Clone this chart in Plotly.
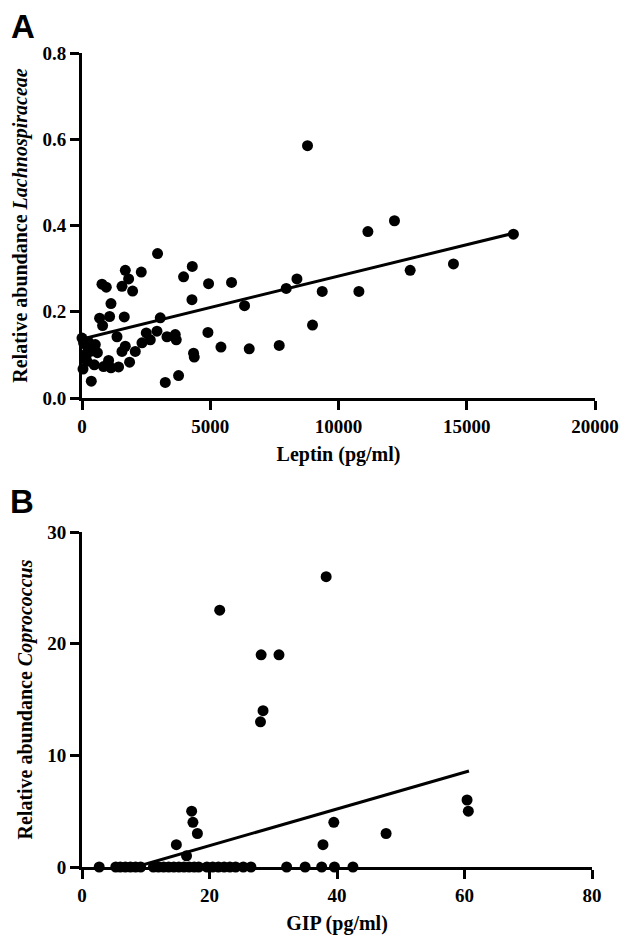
import plotly.graph_objects as go

# ---------------- Panel A data ----------------
leptin_pg_ml = [0, 39, 62, 100, 150, 195, 195, 250, 323, 362, 479, 518, 600, 686, 779, 803,
                842, 947, 1037, 1076, 1130, 1130, 1364, 1426, 1559, 1559, 1648, 1688,
                1688, 1817, 1855, 1973, 2077, 2311, 2338, 2506, 2662, 2923, 2946, 3051,
                3246, 3313, 3636, 3675, 3765, 3960, 4287, 4299, 4349, 4376, 4910, 4934,
                5417, 5830, 6337, 6520, 7689, 7962, 8379, 8792, 8987, 9365, 10795,
                11146, 12182, 12794, 14482, 16820]
lachnospiraceae = [0.139, 0.067, 0.128, 0.100, 0.095, 0.120, 0.085, 0.130, 0.108, 0.039,
                   0.077, 0.124, 0.105, 0.185, 0.264, 0.168, 0.073, 0.257, 0.087, 0.189,
                   0.219, 0.070, 0.142, 0.072, 0.259, 0.108, 0.188, 0.296, 0.120, 0.276,
                   0.083, 0.248, 0.108, 0.292, 0.128, 0.151, 0.135, 0.155, 0.335, 0.186,
                   0.036, 0.142, 0.147, 0.135, 0.052, 0.281, 0.228, 0.305, 0.104, 0.095,
                   0.152, 0.265, 0.118, 0.268, 0.214, 0.114, 0.122, 0.254, 0.276, 0.585,
                   0.169, 0.247, 0.247, 0.386, 0.411, 0.296, 0.311, 0.380]
fit_a_x = [0, 16820]
fit_a_y = [0.137, 0.382]

# ---------------- Panel B data ----------------
gip_pg_ml = [21.6, 28.1, 30.9, 28.4, 28.0, 17.2, 17.4, 18.1, 14.8, 16.4, 38.3, 60.4, 60.6,
             39.5, 47.7, 37.8,
             2.7, 5.3, 6.0, 6.8, 7.6, 8.4, 9.2, 11.2, 12.0, 12.8, 13.6, 14.4, 15.2, 16.0,
             16.8, 17.6, 18.3, 19.6, 20.5, 21.4, 22.3, 23.2, 24.1, 25.3, 26.5, 32.1, 35.0,
             37.6, 39.6, 42.5]
coprococcus = [23, 19, 19, 14, 13, 5, 4, 3, 2, 1, 26, 6, 5, 4, 3, 2,
               0, 0, 0, 0, 0, 0, 0, 0, 0, 0, 0, 0, 0, 0,
               0, 0, 0, 0, 0, 0, 0, 0, 0, 0, 0, 0, 0,
               0, 0, 0]
fit_b_x = [8.4, 60.7]
fit_b_y = [0.0, 8.6]

# ticks
ticks_a_x = [0, 5000, 10000, 15000, 20000]
ticks_a_y = [0.0, 0.2, 0.4, 0.6, 0.8]
ticks_b_x = [0, 20, 40, 60, 80]
ticks_b_y = [0, 10, 20, 30]

# body margin is removed below, so the figure fills the whole window
OFF = 0
W, H = 621, 936


def fx(px):
    return (px - OFF) / W


def fy(py):
    return 1 - (py - OFF) / H


SERIF = "Liberation Serif"
tick_font = dict(family=SERIF, size=19, color="black", weight="bold")
title_font = dict(family=SERIF, size=20, color="black", weight="bold")
letter_font = dict(family="Liberation Sans", size=33, color="black", weight="bold")

fig = go.Figure()
fig.add_trace(go.Scatter(x=leptin_pg_ml, y=lachnospiraceae, mode="markers",
                         marker=dict(size=11, color="black"), cliponaxis=False,
                         xaxis="x", yaxis="y"))
fig.add_trace(go.Scatter(x=fit_a_x, y=fit_a_y, mode="lines",
                         line=dict(color="black", width=3), xaxis="x", yaxis="y"))
fig.add_trace(go.Scatter(x=gip_pg_ml, y=coprococcus, mode="markers",
                         marker=dict(size=11, color="black"), cliponaxis=False,
                         xaxis="x2", yaxis="y2"))
fig.add_trace(go.Scatter(x=fit_b_x, y=fit_b_y, mode="lines",
                         line=dict(color="black", width=3), cliponaxis=False,
                         xaxis="x2", yaxis="y2"))

axis_common = dict(showline=True, linewidth=3, linecolor="black", ticks="outside",
                   ticklen=9, tickwidth=3, tickcolor="black", showgrid=False,
                   zeroline=False, tickfont=tick_font, mirror=False, automargin=False,
                   ticklabeloverflow="allow")

fig.update_layout(
    width=W, height=H, margin=dict(l=0, r=0, t=0, b=0),
    paper_bgcolor="white", plot_bgcolor="white", showlegend=False,
    xaxis=dict(axis_common, domain=[fx(82), fx(595)], anchor="y", range=[0, 20000],
               tickvals=ticks_a_x, ticktext=[str(v) for v in ticks_a_x],
               title=dict(text="Leptin (pg/ml)", font=title_font, standoff=12)),
    yaxis=dict(axis_common, domain=[fy(398), fy(53)], anchor="x", range=[0, 0.8],
               tickvals=ticks_a_y, ticktext=[f"{v:.1f}" for v in ticks_a_y],
               title=dict(text="Relative abundance <i>Lachnospiraceae</i>",
                          font=title_font, standoff=10)),
    xaxis2=dict(axis_common, domain=[fx(82), fx(592)], anchor="y2", range=[0, 80],
                tickvals=ticks_b_x, ticktext=[str(v) for v in ticks_b_x],
                title=dict(text="GIP (pg/ml)", font=title_font, standoff=12)),
    yaxis2=dict(axis_common, domain=[fy(867), fy(532)], anchor="x2", range=[0, 30],
                tickvals=ticks_b_y, ticktext=[str(v) for v in ticks_b_y],
                title=dict(text="Relative abundance <i>Coprococcus</i>",
                           font=title_font, standoff=10)),
    annotations=[
        dict(text="A", xref="paper", yref="paper", x=fx(23), y=fy(26),
             xanchor="center", yanchor="middle", showarrow=False, font=letter_font),
        dict(text="B", xref="paper", yref="paper", x=fx(22), y=fy(501),
             xanchor="center", yanchor="middle", showarrow=False, font=letter_font),
    ],
)

fig.write_html("out.html",
               config={"displayModeBar": False, "staticPlot": True},
               post_script="document.body.style.margin='0px';"
                           "document.body.style.overflow='hidden';")
